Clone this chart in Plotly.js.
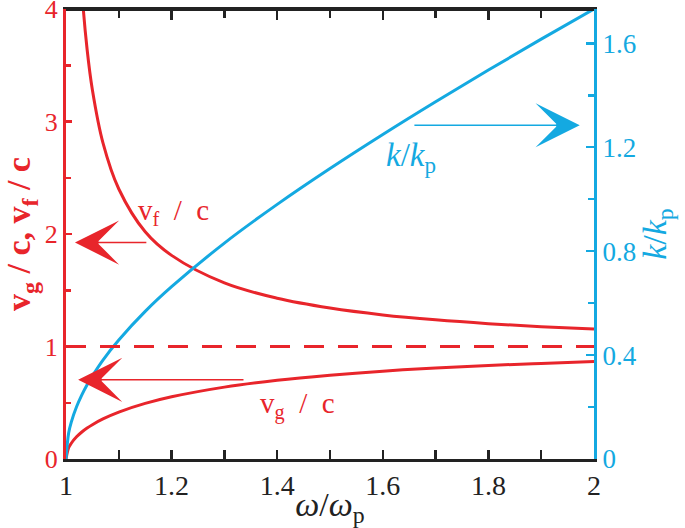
<!DOCTYPE html>
<html>
<head>
<meta charset="utf-8">
<script src="https://cdn.plot.ly/plotly-3.0.1.min.js"></script>
<style>
html,body{margin:0;padding:0;background:#fff;}
#plot{width:685px;height:528px;}
</style>
</head>
<body>
<div id="plot"></div>
<script>
// omega / omega_p
var omega = [1.0, 1.005, 1.01, 1.02, 1.03, 1.04, 1.05, 1.07, 1.1, 1.15, 1.2, 1.3, 1.4, 1.5, 1.6, 1.7, 1.8, 1.9, 2.0];
// phase velocity v_f / c
var vf = [null, null, 7.1, 5.07, 4.17, 3.64, 3.28, 2.81, 2.40, 2.02, 1.81, 1.565, 1.429, 1.342, 1.281, 1.237, 1.203, 1.176, 1.155];
// group velocity v_g / c
var vg = [0, 0.0996, 0.140, 0.197, 0.240, 0.275, 0.305, 0.356, 0.417, 0.494, 0.553, 0.639, 0.700, 0.745, 0.781, 0.809, 0.832, 0.850, 0.866];
// wave number k / k_p
var kk = [0, 0.100, 0.142, 0.201, 0.247, 0.286, 0.320, 0.381, 0.458, 0.568, 0.663, 0.831, 0.980, 1.118, 1.249, 1.375, 1.497, 1.616, 1.732];
// reference line v/c = 1
var refX = [1, 2];
var refY = [1, 1];

var RED = '#e8252b', BLUE = '#14a9e1';
var FONT = "Liberation Serif, Times New Roman, serif";

var traces = [
  {x: omega, y: vf, mode: 'lines', line: {color: RED, width: 3, shape: 'spline'}, hoverinfo: 'none'},
  {x: omega, y: vg, mode: 'lines', line: {color: RED, width: 3, shape: 'spline'}, hoverinfo: 'none'},
  {x: refX, y: refY, mode: 'lines', line: {color: RED, width: 3, dash: '20px,14px'}, hoverinfo: 'none'},
  {x: omega, y: kk, yaxis: 'y2', mode: 'lines', line: {color: BLUE, width: 3, shape: 'spline'}, hoverinfo: 'none'},
  {x: refX, y: refY, xaxis: 'x2', yaxis: 'y', mode: 'lines', line: {color: RED, width: 3, dash: '20px,14px'}, hoverinfo: 'none'}
];

function arrow(x, y, ax, ay, color) {
  return {x: x, y: y, ax: ax, ay: ay, xref: 'x', yref: 'y', axref: 'x', ayref: 'y',
    text: '', showarrow: true, arrowhead: 3, arrowsize: 4.6, arrowwidth: 1.6, arrowcolor: color};
}

var layout = {
  width: 685, height: 528,
  margin: {l: 66, r: 91, t: 9, b: 69},
  paper_bgcolor: '#fff', plot_bgcolor: '#fff',
  showlegend: false,
  font: {family: FONT, size: 25, color: '#222'},
  xaxis: {
    range: [1, 2], tick0: 1, dtick: 0.2, ticks: 'inside', ticklen: 9, tickwidth: 2.5, tickcolor: '#222',
    minor: {dtick: 0.1, ticks: 'inside', ticklen: 5, tickwidth: 2.5, tickcolor: '#222'},
    showline: true, linecolor: '#222', linewidth: 2.5, mirror: 'allticks', showgrid: false, zeroline: false,
    tickfont: {family: FONT, size: 28, color: '#222'},
    title: {text: '<i>ω</i>/<i>ω</i><sub>p</sub>', font: {family: FONT, size: 34, color: '#222'}, standoff: 0}
  },
  xaxis2: {
    overlaying: 'x', side: 'top', anchor: 'free', position: 1, range: [1, 2], tick0: 1, dtick: 0.2,
    ticks: 'inside', ticklen: 9, tickwidth: 2.5, tickcolor: '#222',
    minor: {dtick: 0.1, ticks: 'inside', ticklen: 5, tickwidth: 2.5, tickcolor: '#222'},
    showline: true, linecolor: '#222', linewidth: 2.5, showgrid: false, zeroline: false, showticklabels: false
  },
  yaxis: {
    range: [0, 4], dtick: 1, ticks: 'inside', ticklen: 6, tickwidth: 2.5, tickcolor: RED,
    minor: {dtick: 0.5, ticks: 'inside', ticklen: 5, tickwidth: 2.5, tickcolor: RED},
    showline: true, linecolor: RED, linewidth: 3, showgrid: false, zeroline: false, ticklabeloverflow: 'allow',
    tickfont: {family: FONT, size: 26, color: RED},
    title: {text: '<b>v<sub>g</sub> / c, v<sub>f</sub> / c</b>', font: {family: FONT, size: 34, color: RED}, standoff: 4}
  },
  yaxis2: {
    overlaying: 'y', side: 'right', range: [0, 1.732], dtick: 0.4, ticks: 'inside', ticklen: 8, tickwidth: 2.5, tickcolor: BLUE,
    minor: {dtick: 0.2, ticks: 'inside', ticklen: 6, tickwidth: 2.5, tickcolor: BLUE},
    showline: true, linecolor: BLUE, linewidth: 3, showgrid: false, zeroline: false, ticklabeloverflow: 'allow',
    tickfont: {family: FONT, size: 27, color: BLUE},
    title: {text: '<i>k</i>/<i>k</i><sub>p</sub>', font: {family: FONT, size: 34, color: BLUE}, standoff: 6}
  },
  annotations: [
    arrow(1.017, 1.924, 1.155, 1.924, RED),
    arrow(1.023, 0.704, 1.339, 0.704, RED),
    arrow(1.973, 2.967, 1.657, 2.967, BLUE),
    {x: 1.2045, y: 2.20, xref: 'x', yref: 'y', showarrow: false, text: 'v<sub>f</sub>  /  c', font: {family: FONT, size: 29, color: RED}},
    {x: 1.439, y: 0.48, xref: 'x', yref: 'y', showarrow: false, text: 'v<sub>g</sub>  /  c', font: {family: FONT, size: 29, color: RED}},
    {x: 1.653, y: 2.68, xref: 'x', yref: 'y', showarrow: false, text: '<i>k</i>/<i>k</i><sub>p</sub>', font: {family: FONT, size: 33, color: BLUE}}
  ]
};

Plotly.newPlot('plot', traces, layout, {displayModeBar: false, staticPlot: true});
</script>
</body>
</html>
